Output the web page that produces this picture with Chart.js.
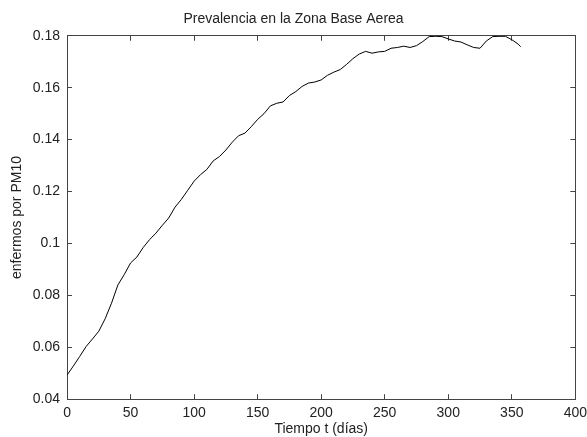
<!DOCTYPE html>
<html>
<head>
<meta charset="utf-8">
<script src="https://cdn.jsdelivr.net/npm/chart.js@4.4.0/dist/chart.umd.min.js"></script>
<style>
  body { margin: 0; background: #fff; }
  canvas { display: block; }
</style>
</head>
<body>
<canvas id="prevChart" width="587" height="437"></canvas>
<script>
// dias (t) y prevalencia
const days = [0, 5, 10, 15, 20, 25, 30, 35, 40, 45, 50, 55, 60, 65, 70, 75, 80, 85, 90, 95,
  100, 105, 110, 115, 120, 125, 130, 135, 140, 145, 150, 155, 160, 165, 170, 175, 180, 185, 190, 195,
  200, 205, 210, 215, 220, 225, 230, 235, 240, 245, 250, 255, 260, 265, 270, 275, 280, 285, 290, 295,
  300, 305, 310, 315, 320, 325, 330, 335, 340, 345, 350, 355, 357];
const prevalence = [0.0493, 0.0528, 0.0565, 0.0603, 0.0632, 0.0662, 0.0710, 0.0770, 0.0840, 0.0880,
  0.0925, 0.0948, 0.0985, 0.1015, 0.1040, 0.1070, 0.1098, 0.1140, 0.1170, 0.1205,
  0.1240, 0.1265, 0.1285, 0.1318, 0.1335, 0.1360, 0.1390, 0.1415, 0.1425, 0.1450,
  0.1478, 0.1500, 0.1530, 0.1540, 0.1545, 0.1570, 0.1585, 0.1605, 0.1618, 0.1622,
  0.1630, 0.1648, 0.1660, 0.1670, 0.1690, 0.1712, 0.1730, 0.1740, 0.1733, 0.1738,
  0.1740, 0.1752, 0.1755, 0.1760, 0.1755, 0.1762, 0.1778, 0.1797, 0.1798, 0.1797,
  0.1788, 0.1780, 0.1776, 0.1765, 0.1755, 0.1752, 0.1780, 0.1797, 0.1798, 0.1798,
  0.1785, 0.1768, 0.1758];

// ejes: limites y paso de las marcas
const xRange = [0, 400];
const xStep = 50;
const yRange = [0.04, 0.18];
const yStep = 0.02;

const titleText = 'Prevalencia en la Zona Base Aerea';
const xLabel = 'Tiempo t (días)';
const yLabel = 'enfermos por PM10';

const axisColor = '#444';
const textColor = '#222';
const fontFamily = '"Liberation Sans", Arial, sans-serif';
const tickFont = { family: fontFamily, size: 14 };

// ejes con etiquetas: marca transparente hacia fuera solo para separar el texto
const labelGrid = (len) => ({
  display: true,
  drawOnChartArea: false,
  drawTicks: true,
  tickLength: len,
  color: 'rgba(0,0,0,0)',
});

// ejes sin etiquetas: marcas hacia dentro (estilo matlab), alto/ancho 0
const boxAxis = (position, range, step, weight) => ({
  type: 'linear',
  position,
  weight,
  display: true,
  min: range[0],
  max: range[1],
  grid: {
    display: true,
    drawOnChartArea: false,
    drawTicks: true,
    tickLength: -5,
    color: axisColor,
    lineWidth: 1,
  },
  border: { display: true, color: axisColor, width: 1 },
  ticks: { stepSize: step, display: false },
  // titulo vacio de 5px que compensa el tickLength negativo
  title: { display: true, text: '', font: { size: 1, lineHeight: '5px' }, padding: 0 },
});

const ctx = document.getElementById('prevChart').getContext('2d');
new Chart(ctx, {
  type: 'line',
  data: {
    datasets: [{
      data: days.map((d, i) => ({ x: d, y: prevalence[i] })),
      borderColor: '#000',
      borderWidth: 1,
      pointRadius: 0,
      tension: 0,
      fill: false,
    }],
  },
  options: {
    responsive: false,
    animation: false,
    layout: { padding: 0 },
    plugins: {
      legend: { display: false },
      tooltip: { enabled: false },
      title: {
        display: true,
        text: titleText,
        color: textColor,
        font: { family: fontFamily, size: 14, weight: 'normal' },
        padding: { top: 11, bottom: 8 },
      },
    },
    scales: {
      x: {
        type: 'linear',
        position: 'bottom',
        min: xRange[0],
        max: xRange[1],
        grid: labelGrid(6),
        border: { display: true, color: axisColor, width: 1 },
        ticks: { stepSize: xStep, padding: 0, maxRotation: 0, color: textColor, font: tickFont },
        title: {
          display: true, text: xLabel, color: textColor,
          font: { family: fontFamily, size: 14, lineHeight: 1 },
          padding: { top: 0, bottom: 1 },
        },
      },
      y: {
        position: 'left',
        min: yRange[0],
        max: yRange[1],
        grid: labelGrid(7),
        border: { display: true, color: axisColor, width: 1 },
        ticks: {
          stepSize: yStep, padding: 0, color: textColor, font: tickFont,
          callback: (v) => String(+v.toFixed(2)),
        },
        title: {
          display: true, text: yLabel, color: textColor,
          font: { family: fontFamily, size: 14 },
          padding: { top: 9, bottom: 7 },
        },
      },
      xBottom: boxAxis('bottom', xRange, xStep, -1),
      xTop: boxAxis('top', xRange, xStep, -1),
      yLeft: boxAxis('left', yRange, yStep, -1),
      yRight: boxAxis('right', yRange, yStep, -1),
    },
  },
});
</script>
</body>
</html>
